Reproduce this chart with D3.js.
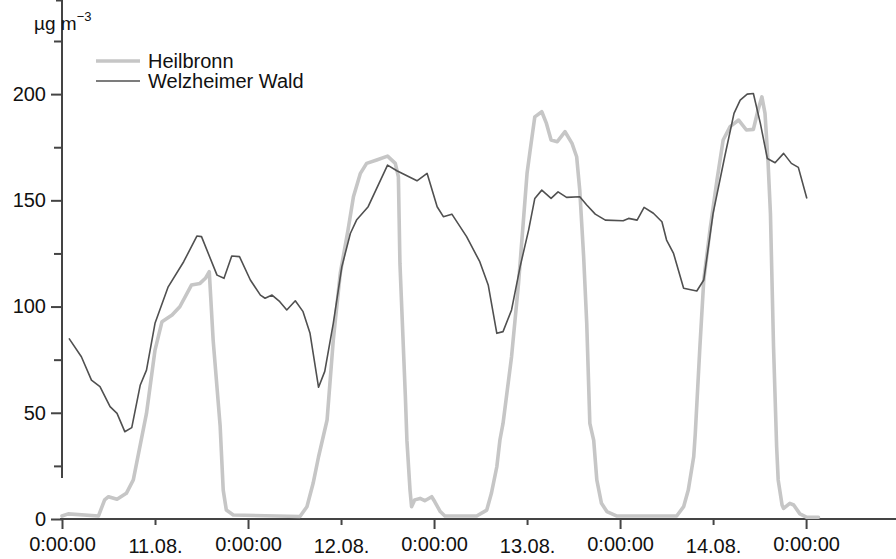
<!DOCTYPE html>
<html>
<head>
<meta charset="utf-8">
<script src="https://cdn.jsdelivr.net/npm/d3@7"></script>
<style>
  html, body { margin: 0; padding: 0; background: #fff; }
  svg { display: block; font-family: "Liberation Sans", Arial, Helvetica, sans-serif; }
</style>
</head>
<body>
<svg id="chart" width="896" height="559"></svg>
<script>
// Hours since 11.08. 0:00 and concentrations (µg m⁻³)
const heilbronnHours = [0, 0.8, 4.7, 5.5, 6.0, 7.1, 8.3, 9.2, 10.1, 10.9, 12.0, 12.9, 14.2, 15.2, 16.7, 17.8, 18.5, 19.0, 19.5, 20.4, 20.8, 21.2, 22.1,
  30.7, 31.6, 32.4, 33.1, 34.2, 35.0, 35.9, 36.9, 37.6, 38.5, 39.3, 40.6, 42.0, 43.0, 43.4, 43.6, 44.3, 44.5, 44.9, 45.1, 45.5, 46.2, 46.8, 47.7, 48.1, 48.8, 49.4,
  53.5, 54.8, 55.4, 56.1, 56.5, 56.9, 58.0, 58.9, 59.5, 60.0, 60.4, 61.0, 61.9, 62.5, 63.1, 63.9, 64.9, 65.8, 66.4, 66.8, 67.3, 67.7, 68.1, 68.6, 69.0, 69.6, 70.3, 71.6,
  79.3, 80.2, 80.8, 81.5, 81.7, 82.3, 82.8, 83.6, 84.5, 85.3, 86.2, 87.3, 88.3, 89.2, 89.8, 90.3, 90.7, 91.1, 91.4, 91.8, 92.2, 92.4, 92.9, 93.1, 93.9, 94.4, 95.2, 96.1, 97.6];
const heilbronnValues = [1.4, 2.4, 1.4, 9, 10.5, 9.3, 12.1, 18.4, 35, 49.7, 79.5, 92.9, 96, 99.9, 110.1, 110.9, 113.3, 116.4, 84.2, 44, 13.6, 4.2, 1.9,
  1.2, 5.8, 16.8, 29.3, 46.6, 84.2, 115.6, 136, 151.7, 162.7, 167.4, 169, 170.8, 167.4, 161.1, 120.3, 57.6, 37, 13.6, 5.8, 9, 9.7, 8.6, 10.5, 8.1, 3.5, 1.4,
  1.4, 4.2, 12.1, 24.6, 37.2, 45, 76.4, 110.9, 139.1, 162.7, 173.6, 189.3, 191.7, 186.2, 178.4, 177.6, 182.3, 176.8, 170.5, 154.8, 123.5, 92.1, 45, 37, 18.4, 7.4, 3.5, 1.4,
  1.4, 5.8, 13.6, 29.3, 40, 81.1, 112.5, 136, 159.5, 178.4, 184.7, 187.8, 183.1, 183.4, 192.5, 198.7, 190.9, 167.4, 143.9, 81.1, 34, 18.4, 6.6, 5, 7.4, 6.6, 2.4, 0.8, 0.8];

const welzheimHours = [0.9, 2.5, 3.8, 4.9, 6.2, 7.1, 8.1, 9.0, 10.1, 10.9, 12.0, 13.7, 15.7, 17.4, 18.0, 20.0, 20.9, 21.9, 22.9, 24.3, 25.6, 26.2, 27.1, 28.1, 29.0, 30.1, 31.1, 32.0,
  33.1, 33.9, 35.0, 36.1, 37.2, 38.0, 39.5, 42.0, 43.2, 45.8, 47.1, 48.4, 49.2, 50.3, 52.2, 53.9, 55.0, 56.1, 56.9, 58.0, 59.1, 60.2, 61.0, 61.9, 63.1, 64.0, 65.1,
  66.8, 67.7, 68.8, 70.1, 72.4, 73.1, 74.2, 75.1, 76.3, 77.4, 78.0, 78.9, 80.2, 81.9, 82.8, 84.0, 85.5, 86.7, 87.5, 88.4, 89.2, 90.1, 91.0, 92.0, 93.1, 94.1, 95.0, 96.1];
const welzheimValues = [85, 76.4, 65.4, 62.3, 52.9, 49.7, 41.1, 43.0, 63.1, 70.1, 92.1, 109.3, 121.1, 133.2, 132.9, 114.8, 113.3, 123.8, 123.5, 112.5, 105.4, 103.9, 105.4, 102.3, 98.4, 102.7, 97.6, 87.4,
  62.0, 69.5, 92.1, 118.7, 134.4, 140.7, 147, 166.6, 163.9, 159.2, 162.7, 147, 142.3, 143.5, 132.9, 121.1, 110, 87.4, 88.2, 98.4, 118.7, 136, 150.9, 154.8, 150.9, 154, 151.4,
  151.7, 147.8, 143.5, 140.7, 140.4, 141.5, 140.7, 146.7, 143.9, 139.9, 131.3, 125, 108.6, 107.3, 112.5, 143.9, 170.5, 190.9, 197.2, 200, 200.3, 186.2, 169.7, 167.7, 172.1, 167.4, 165.5, 150.9];

const seriesNames = ["Heilbronn", "Welzheimer Wald"];
const midnightTicks = [0, 24, 48, 72, 96];
const midnightLabels = ["0:00:00", "0:00:00", "0:00:00", "0:00:00", "0:00:00"];
const noonTicks = [12, 36, 60, 84];
const dayLabels = ["11.08.", "12.08.", "13.08.", "14.08."];
const yMajorTicks = [0, 50, 100, 150, 200];
const yMinorTicks = [25, 75, 125, 175, 225];

const svg = d3.select("#chart");
const axisColor = "#444";
const fontSize = 20;

const x = d3.scaleLinear().domain([0, 107.6]).range([62, 896]);
const y = d3.scaleLinear().domain([0, 225]).range([519, 41]);

// y axis: minor ticks first, then labelled major ticks
const yMinor = svg.append("g").attr("transform", "translate(62,0)")
  .call(d3.axisLeft(y).tickValues(yMinorTicks).tickSize(8).tickFormat(""));
const yMajor = svg.append("g").attr("transform", "translate(62,0)")
  .call(d3.axisLeft(y).tickValues(yMajorTicks).tickSize(11).tickPadding(5).tickFormat(d3.format("d")));

// x axis: midnight (major) and noon (minor) ticks
const xMinor = svg.append("g").attr("transform", "translate(0,519)")
  .call(d3.axisBottom(x).tickValues(noonTicks).tickSize(6).tickFormat((d, i) => dayLabels[i]));
const xMajor = svg.append("g").attr("transform", "translate(0,519)")
  .call(d3.axisBottom(x).tickValues(midnightTicks).tickSize(10).tickFormat((d, i) => midnightLabels[i]));

[yMinor, yMajor, xMinor, xMajor].forEach(g => {
  g.select(".domain").attr("stroke", axisColor).attr("stroke-width", 2);
  g.selectAll(".tick line").attr("stroke", axisColor).attr("stroke-width", 2);
  g.selectAll(".tick text").attr("fill", "#111").style("font-size", fontSize + "px")
    .style("font-family", '"Liberation Sans", Arial, sans-serif');
});
// extend the x axis line across the full width
xMajor.select(".domain").attr("d", "M60,0H896");
xMinor.select(".domain").attr("d", "M60,0H896");
yMajor.select(".domain").attr("d", "M-6,0.5H0V478");
yMinor.select(".domain").attr("d", "M0,478V478");
// day labels sit a little lower than the time labels
xMajor.selectAll(".tick text").attr("y", 32).attr("dy", 0);
xMinor.selectAll(".tick text").attr("y", 34).attr("dy", 0);

// unit label
const unit = svg.append("text").attr("x", 34).attr("y", 30)
  .style("font-size", "19px").attr("fill", "#111");
unit.append("tspan").text("µg m");
unit.append("tspan").attr("dy", -9).style("font-size", "13px").text("−3");

// lines
const lineGen = (hours, values) => d3.line()
  .x((d, i) => x(hours[i]))
  .y(d => y(d))(values);

svg.append("path")
  .attr("d", lineGen(heilbronnHours, heilbronnValues))
  .attr("fill", "none").attr("stroke", "#c6c6c6").attr("stroke-width", 3.6)
  .attr("stroke-linejoin", "round").attr("stroke-linecap", "round");

svg.append("path")
  .attr("d", lineGen(welzheimHours, welzheimValues))
  .attr("fill", "none").attr("stroke", "#505050").attr("stroke-width", 1.6)
  .attr("stroke-linejoin", "round");

// legend
const legend = svg.append("g");
const legendStyles = [
  { stroke: "#c6c6c6", width: 3.6, y: 61 },
  { stroke: "#505050", width: 1.6, y: 81 }
];
seriesNames.forEach((name, i) => {
  const s = legendStyles[i];
  legend.append("line").attr("x1", 96).attr("x2", 140).attr("y1", s.y).attr("y2", s.y)
    .attr("stroke", s.stroke).attr("stroke-width", s.width);
  legend.append("text").attr("x", 148).attr("y", s.y + 7)
    .style("font-size", fontSize + "px").attr("fill", "#111").text(name);
});
</script>
</body>
</html>
